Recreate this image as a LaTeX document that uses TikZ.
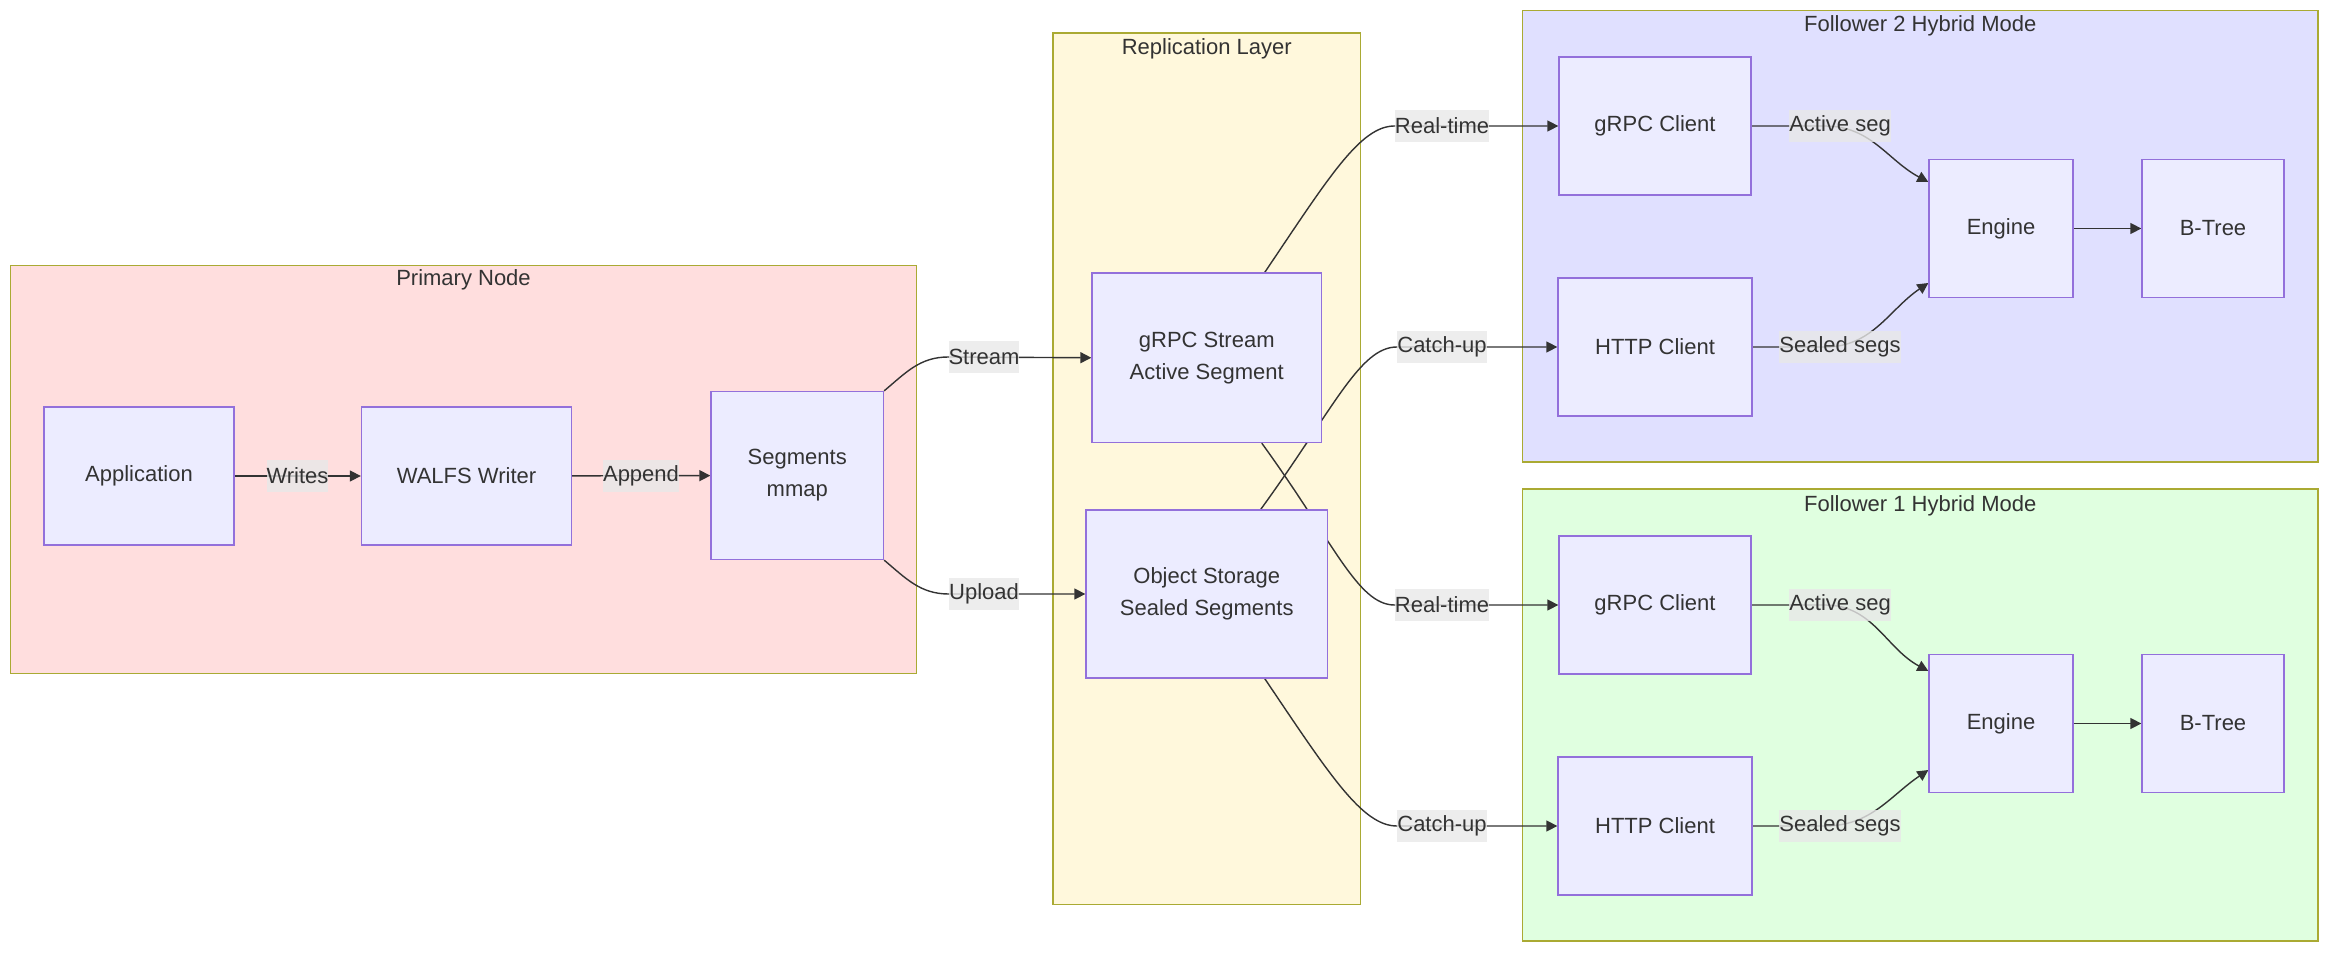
\documentclass[tikz,border=0pt]{standalone}
\usepackage{fontspec}
\setmainfont{Liberation Sans}
\usetikzlibrary{arrows.meta,positioning,calc}
\definecolor{NodeFill}{HTML}{ECECFF}
\definecolor{NodeLine}{HTML}{9370DB}
\definecolor{GrpLine}{HTML}{AAAA33}
\definecolor{PrimFill}{HTML}{FFDEDE}
\definecolor{ReplFill}{HTML}{FFF8DC}
\definecolor{FolTwoFill}{HTML}{E0E0FF}
\definecolor{FolOneFill}{HTML}{E0FFE0}
\definecolor{LblFill}{HTML}{E8E8E8}
\definecolor{InkGray}{HTML}{333333}
\pgfdeclarelayer{grp}
\pgfdeclarelayer{wire}
\pgfsetlayers{grp,wire,main}

\begin{document}
\begin{tikzpicture}[x=0.5pt, y=-0.5pt,
    every node/.style={font=\fontsize{11}{16}\selectfont,text=InkGray,align=center},
    box/.style={draw=NodeLine,fill=NodeFill,line width=0.65pt,minimum height=69pt,inner sep=0pt},
    grp/.style={draw=GrpLine,line width=0.65pt,inner sep=0pt},
    lbl/.style={fill=LblFill,fill opacity=0.8,text opacity=1,inner sep=0pt,minimum height=16pt},
    wire/.style={draw=InkGray,line width=0.7pt},
    arr/.style={wire,-{Triangle[length=5.5pt,width=5.5pt]}},
    long/.style={out looseness=1.5,in looseness=0.45}]
    \useasboundingbox (0,0) rectangle (2352,963);
    % subgraphs
    \begin{pgfonlayer}{grp}
    \node[grp,fill=PrimFill,minimum width=453pt,minimum height=204pt] (primary) at (463.5,469.5) {};
    \node[grp,fill=ReplFill,minimum width=153.75pt,minimum height=435.75pt] (repl) at (1206.75,468.75) {};
    \node[grp,fill=FolTwoFill,minimum width=397.75pt,minimum height=225.75pt] (foltwo) at (1920.25,236.25) {};
    \node[grp,fill=FolOneFill,minimum width=397.75pt,minimum height=226pt] (folone) at (1920.25,715) {};
    \end{pgfonlayer}
    \node (tprim) at (463.5,280) {Primary Node};
    \node (trepl) at (1206.75,49) {Replication Layer};
    \node (tfoltwo) at (1920.25,26) {Follower 2 Hybrid Mode};
    \node (tfolone) at (1920.25,506) {Follower 1 Hybrid Mode};
    % primary node
    \node[box,minimum width=95pt] (app) at (139,476) {Application};
    \node[box,minimum width=105pt] (walfs) at (466.5,476) {WALFS Writer};
    \node[box,minimum width=86.25pt,minimum height=84pt] (seg) at (797.25,475.5) {Segments\\mmap};
    % replication
    \node[box,minimum width=114.75pt,minimum height=84.75pt] (gstream) at (1206.75,357.75) {gRPC Stream\\Active Segment};
    \node[box,minimum width=120.75pt,minimum height=84pt] (objstore) at (1206.75,594) {Object Storage\\Sealed Segments};
    % followers
    \node[box,minimum width=96pt] (gctwo) at (1655,126) {gRPC Client};
    \node[box,minimum width=97pt] (hctwo) at (1655,347) {HTTP Client};
    \node[box,minimum width=72pt] (engtwo) at (2001,228.5) {Engine};
    \node[box,minimum width=71pt] (bttwo) at (2213,228.5) {B-Tree};
    \node[box,minimum width=96pt] (gcone) at (1655,605) {gRPC Client};
    \node[box,minimum width=97pt] (hcone) at (1655,826) {HTTP Client};
    \node[box,minimum width=72pt] (engone) at (2001,723.5) {Engine};
    \node[box,minimum width=71pt] (btone) at (2213,723.5) {B-Tree};
    % edge labels
    \node[lbl] (lwrites) at (297.5,476) {Writes};
    \node[lbl] (lappend) at (641,476) {Append};
    \node[lbl] (lstream) at (984,357) {Stream};
    \node[lbl] (lupload) at (984,594) {Upload};
    \node[lbl] (lrttwo) at (1442,126) {Real-time};
    \node[lbl] (lcutwo) at (1442,347) {Catch-up};
    \node[lbl] (lrtone) at (1442,605) {Real-time};
    \node[lbl] (lcuone) at (1442,826) {Catch-up};
    \node[lbl] (lastwo) at (1840,126) {Active seg};
    \node[lbl] (lsstwo) at (1840,347) {Sealed segs};
    \node[lbl] (lasone) at (1840,605) {Active seg};
    \node[lbl] (lssone) at (1840,826) {Sealed segs};
    \begin{pgfonlayer}{wire}
    \foreach \x/\y in {app/walfs,walfs/seg,engtwo/bttwo,engone/btone}{\draw[arr] (\x) -- (\y);}
    \draw[arr] (seg.north east) to[out=40,in=180] (lstream.west) -- (gstream.west);
    \draw[arr] (seg.south east) to[out=-40,in=180] (lupload.west) -- (objstore.west);
    \draw[arr] ($(gstream.north)+(58,0)$) to[long,out=56,in=180] (lrttwo.west) -- (gctwo.west);
    \draw[arr] ($(objstore.north)+(54,0)$) to[long,out=54,in=180] (lcutwo.west) -- (hctwo.west);
    \draw[arr] ($(gstream.south)+(55,0)$) to[long,out=-54,in=180] (lrtone.west) -- (gcone.west);
    \draw[arr] ($(objstore.south)+(58,0)$) to[long,out=-56,in=180] (lcuone.west) -- (hcone.west);
    \draw[arr] (gctwo.east) -- ($(lastwo.center)+(-15,0)$) to[out=0,in=152] ($(engtwo.west)+(0,-46.5)$);
    \draw[arr] (hctwo.east) -- ($(lsstwo.center)+(-15,0)$) to[out=0,in=-146] ($(engtwo.west)+(0,54.5)$);
    \draw[arr] (gcone.east) -- ($(lasone.center)+(-15,0)$) to[out=0,in=152] ($(engone.west)+(0,-52.5)$);
    \draw[arr] (hcone.east) -- ($(lssone.center)+(-15,0)$) to[out=0,in=-146] ($(engone.west)+(0,46.5)$);
    \end{pgfonlayer}
\end{tikzpicture}
\end{document}
